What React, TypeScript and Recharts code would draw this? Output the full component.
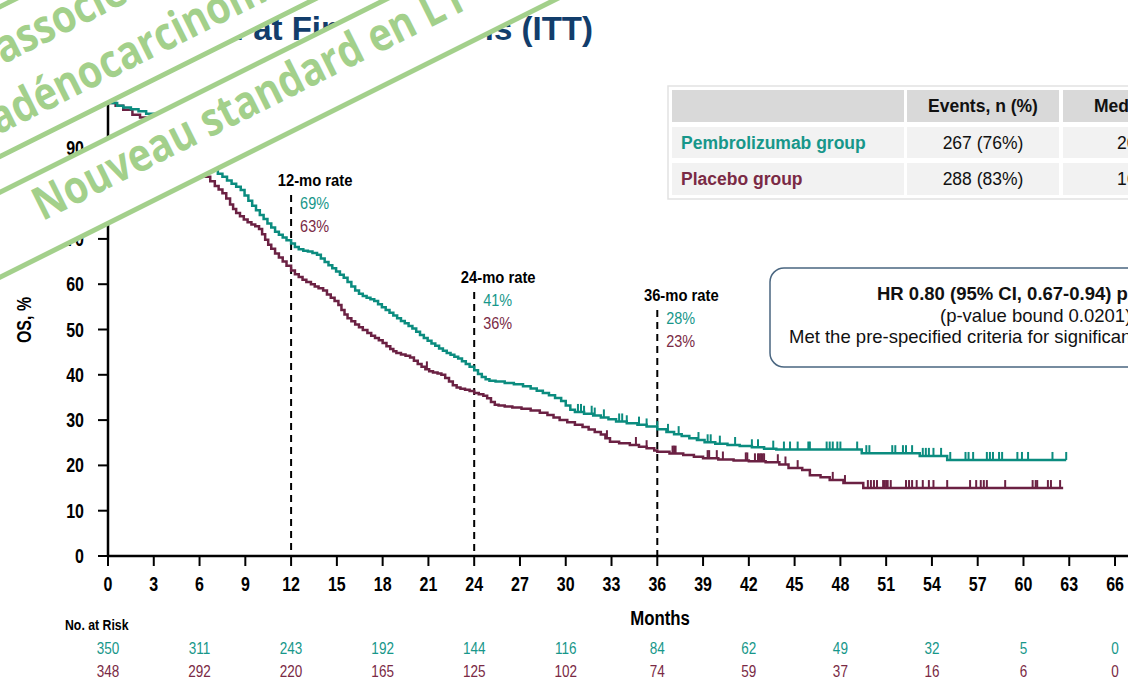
import React from "react";
import { ComposedChart, Line, Scatter, XAxis, YAxis, ReferenceLine } from "recharts";

type Step = [number, number];

// ---- data ----
const monthTicks = [0, 3, 6, 9, 12, 15, 18, 21, 24, 27, 30, 33, 36, 39, 42, 45, 48, 51, 54, 57, 60, 63, 66];
const survivalTicks = [0, 10, 20, 30, 40, 50, 60, 70, 80, 90, 100];

const riskMonths = [0, 6, 12, 18, 24, 30, 36, 42, 48, 54, 60, 66];
const pembroAtRisk = [350, 311, 243, 192, 144, 116, 84, 62, 49, 32, 5, 0];
const placeboAtRisk = [348, 292, 220, 165, 125, 102, 74, 59, 37, 16, 6, 0];

const landmarkMonths = [12, 24, 36];
const pembroLandmarkRates = [69, 41, 28];
const placeboLandmarkRates = [63, 36, 23];

// Kaplan-Meier steps: [month, OS %]
const pembroSteps: Step[] = [
  [0, 100], [0.6, 99.4], [1.0, 99.0], [1.5, 98.6], [2.0, 98.2], [2.5, 97.6], [3.0, 96.6], [3.5, 95.5],
  [4.0, 94.3], [4.5, 93.0], [5.0, 91.6], [5.5, 90.0], [6.0, 88.4], [6.3, 87.4], [6.6, 86.3], [6.9, 85.3],
  [7.2, 84.4], [7.5, 83.7], [7.8, 82.9], [8.1, 82.2], [8.4, 81.5], [8.7, 80.8], [8.95, 79.6], [9.2, 78.4],
  [9.45, 77.3], [9.7, 76.3], [9.95, 75.3], [10.2, 74.4], [10.45, 73.4], [10.7, 72.5], [10.95, 71.6],
  [11.2, 70.9], [11.45, 70.3], [11.7, 69.7], [12.0, 69.0], [12.25, 68.2], [12.5, 67.7], [12.8, 67.4],
  [13.1, 67.2], [13.4, 66.9], [13.7, 66.5], [13.95, 65.7], [14.2, 64.9], [14.45, 64.2], [14.7, 63.5],
  [14.95, 62.8], [15.2, 62.1], [15.45, 61.4], [15.7, 60.5], [15.95, 59.5], [16.2, 58.6], [16.45, 57.9],
  [16.7, 57.4], [16.95, 57.0], [17.2, 56.7], [17.45, 56.3], [17.7, 55.6], [17.95, 54.9], [18.2, 54.3],
  [18.45, 53.7], [18.7, 53.1], [18.95, 52.5], [19.2, 51.9], [19.45, 51.4], [19.7, 50.8], [19.95, 50.2],
  [20.2, 49.5], [20.45, 48.8], [20.7, 48.1], [20.95, 47.5], [21.2, 46.9], [21.45, 46.4], [21.7, 45.8],
  [21.95, 45.3], [22.2, 44.8], [22.45, 44.4], [22.7, 44.0], [22.95, 43.6], [23.2, 43.0], [23.45, 42.4],
  [23.7, 41.8], [24.0, 41.0], [24.25, 40.2], [24.5, 39.5], [24.75, 39.0], [25.0, 38.7], [25.4, 38.5],
  [26.0, 38.2], [26.6, 37.9], [27.2, 37.5], [27.7, 37.0], [28.1, 36.5], [28.5, 36.0], [28.9, 35.5],
  [29.3, 34.9], [29.7, 34.2], [30.0, 33.2], [30.3, 32.3], [30.6, 31.8], [31.2, 31.4], [31.8, 31.0],
  [32.3, 30.6], [32.8, 30.2], [33.3, 29.7], [34.0, 29.3], [34.7, 29.0], [35.3, 28.6], [36.0, 28.0],
  [36.6, 27.4], [37.1, 26.9], [37.6, 26.5], [38.1, 26.0], [38.6, 25.6], [39.1, 25.1], [39.8, 24.8],
  [40.6, 24.5], [41.4, 24.3], [42.2, 24.0], [43.0, 23.7], [43.8, 23.5], [49.4, 22.7], [53.2, 22.1],
  [55.0, 21.2], [62.8, 21.2],
];

const placeboSteps: Step[] = [
  [0, 100], [0.5, 99.4], [1.0, 98.5], [1.6, 97.4], [2.1, 96.8], [2.6, 95.8], [3.0, 94.6], [3.5, 93.2],
  [4.0, 91.8], [4.5, 90.3], [5.0, 88.8], [5.5, 87.1], [6.0, 85.3], [6.4, 83.7], [6.7, 82.7], [7.0, 81.7],
  [7.25, 80.9], [7.5, 80.1], [7.75, 78.9], [8.0, 77.6], [8.2, 76.6], [8.4, 75.7], [8.65, 75.0], [8.9, 74.3],
  [9.15, 73.7], [9.4, 73.2], [9.65, 72.8], [9.9, 72.2], [10.1, 71.0], [10.3, 69.8], [10.5, 68.7],
  [10.7, 67.8], [10.95, 66.8], [11.2, 65.9], [11.45, 65.0], [11.7, 64.1], [12.0, 63.0], [12.25, 62.2],
  [12.5, 61.6], [12.75, 61.0], [13.0, 60.5], [13.3, 60.0], [13.55, 59.5], [13.8, 59.1], [14.1, 58.6],
  [14.35, 57.7], [14.6, 57.0], [14.85, 56.3], [15.1, 55.4], [15.3, 54.3], [15.5, 53.3], [15.7, 52.5],
  [15.95, 51.8], [16.2, 51.1], [16.45, 50.5], [16.7, 49.9], [17.0, 49.2], [17.25, 48.6], [17.5, 48.1],
  [17.75, 47.6], [18.0, 47.0], [18.25, 46.3], [18.5, 45.7], [18.7, 45.2], [18.9, 44.8], [19.2, 44.5],
  [19.5, 44.2], [19.8, 43.8], [20.05, 43.1], [20.3, 42.4], [20.55, 41.8], [20.8, 41.2], [21.05, 40.8],
  [21.3, 40.5], [21.6, 40.3], [21.85, 40.0], [22.1, 39.3], [22.35, 38.5], [22.6, 37.7], [22.85, 37.2],
  [23.1, 36.9], [23.4, 36.7], [23.7, 36.4], [24.0, 36.0], [24.3, 35.7], [24.6, 35.4], [24.85, 34.8],
  [25.1, 34.0], [25.35, 33.4], [25.6, 33.2], [26.0, 33.0], [26.5, 32.8], [27.1, 32.5], [27.7, 32.1],
  [28.3, 31.6], [28.8, 31.1], [29.2, 30.6], [29.6, 30.0], [30.1, 29.5], [30.6, 29.0], [31.1, 28.5],
  [31.5, 27.9], [31.9, 27.4], [32.3, 26.8], [32.6, 26.0], [32.9, 25.2], [33.5, 24.9], [34.2, 24.5],
  [34.8, 24.1], [35.3, 23.8], [35.8, 23.3], [36.0, 23.0], [36.8, 22.6], [37.7, 22.3], [38.4, 21.9],
  [39.0, 21.6], [40.0, 21.3], [41.0, 21.1], [42.0, 20.9], [43.1, 20.7], [44.0, 20.2], [44.6, 19.4],
  [45.5, 19.0], [46.0, 17.8], [46.7, 17.4], [47.3, 16.8], [48.2, 16.1], [49.5, 15.0], [62.6, 15.0],
];

// censoring times (months)
const pembroCensored = [
  30.8, 31.0, 31.2, 31.7, 31.9, 32.5, 33.5, 33.7, 34.0, 34.8, 35.3, 36.0, 36.7, 37.4, 38.7, 39.3, 39.5,
  40.1, 41.1, 42.2, 42.6, 43.6, 44.3, 44.7, 45.2, 45.9, 46.0, 47.1, 47.3, 47.5, 47.8, 48.0, 49.1, 49.7,
  49.9, 51.4, 51.6, 52.1, 52.3, 52.7, 53.4, 53.6, 53.8, 54.1, 54.6, 55.2, 56.2, 56.4, 56.7, 57.6, 57.8,
  58.0, 58.4, 58.6, 59.6, 59.9, 60.3, 61.9, 62.8,
];
const placeboCensored = [
  20.9, 32.7, 34.6, 35.3, 37.0, 37.1, 37.2, 39.3, 39.4, 39.9, 40.3, 41.8, 41.9, 42.4, 42.6, 42.7, 42.8,
  42.9, 43.0, 43.9, 44.4, 45.2, 47.5, 48.3, 49.8, 50.0, 50.2, 50.4, 50.8, 50.9, 51.0, 51.1, 51.3, 52.3,
  52.5, 52.7, 53.0, 53.4, 53.8, 54.1, 55.0, 56.5, 56.9, 57.2, 57.4, 57.6, 58.8, 60.6, 60.8, 60.9, 61.6,
  61.8, 62.4,
];

// ---- styling ----
const W = 1128;
const H = 684;
const SANS = "'Liberation Sans', Arial, sans-serif";
const BANNER_FONT = "'Open Sans', sans-serif";
const CONDENSE = 0.82; // horizontal squeeze for the narrow axis lettering
const TEAL = "#0b8c7f";
const TEAL_TEXT = "#17978a";
const MAROON = "#6b2143";
const MAROON_TEXT = "#7a2a45";
const GREEN = "#a3d08b";
const NAVY = "#123d6b";

// top of each dashed landmark line, in OS % units
const landmarkLineTops = [79.7, 58.3, 54.3];

const levelAt = (steps: Step[], t: number) => {
  let s = steps[0][1];
  for (const [ti, si] of steps) {
    if (ti <= t) s = si;
    else break;
  }
  return s;
};

const toPoints = (steps: Step[]) => steps.map(([t, s]) => ({ t, s }));
const censorPoints = (steps: Step[], times: number[]) => times.map((t) => ({ t, s: levelAt(steps, t) }));

const pembroData = toPoints(pembroSteps);
const placeboData = toPoints(placeboSteps);
const pembroCensorData = censorPoints(pembroSteps, pembroCensored);
const placeboCensorData = censorPoints(placeboSteps, placeboCensored);

// condensed text: a font squeezed horizontally
const NarrowText = ({ x, y, size, bold, fill = "#000", anchor = "start", squeeze = CONDENSE, family = SANS, children }: any) => (
  <text
    transform={`translate(${x},${y}) scale(${squeeze},1)`}
    textAnchor={anchor}
    fontFamily={family}
    fontWeight={bold ? 700 : 400}
    fontSize={size}
    fill={fill}
  >
    {children}
  </text>
);

const censorShape = (color: string) => (p: any) =>
  <line x1={p.cx} y1={p.cy} x2={p.cx} y2={p.cy - 8} stroke={color} strokeWidth={2} />;

const MonthTick = (props: any) => {
  const { x, y, payload } = props;
  const m = payload.value;
  const i = riskMonths.indexOf(m);
  return (
    <g>
      <NarrowText x={x} y={y + 25} size={19.5} bold anchor="middle">{m}</NarrowText>
      {i >= 0 && (
        <>
          <NarrowText x={x} y={y + 88} size={16.5} anchor="middle" fill={TEAL_TEXT}>{pembroAtRisk[i]}</NarrowText>
          <NarrowText x={x} y={y + 111} size={16.5} anchor="middle" fill={MAROON_TEXT}>{placeboAtRisk[i]}</NarrowText>
        </>
      )}
    </g>
  );
};

const SurvivalTick = (props: any) => {
  const { x, y, payload } = props;
  return <NarrowText x={x} y={y + 7} size={19.5} bold anchor="end">{payload.value}</NarrowText>;
};

const landmarkLabel = (i: number) => (props: any) => {
  const vb = props.viewBox || {};
  const x = vb.x ?? vb.x1;
  const y = vb.y ?? vb.y1;
  const h = vb.height ?? (vb.y2 - vb.y1);
  const top = Math.min(y, y + h);
  return (
    <g>
      <NarrowText x={x + 24} y={top - 9} size={17} bold anchor="middle" squeeze={0.87}>
        {landmarkMonths[i]}-mo rate
      </NarrowText>
      <NarrowText x={x + 9} y={top + 14} size={17} fill={TEAL_TEXT} squeeze={0.85}>
        {pembroLandmarkRates[i]}%
      </NarrowText>
      <NarrowText x={x + 9} y={top + 37} size={17} fill={MAROON_TEXT} squeeze={0.85}>
        {placeboLandmarkRates[i]}%
      </NarrowText>
    </g>
  );
};

export default function App() {
  return (
    <div style={{ position: "relative", width: W, height: H, background: "#fff", overflow: "hidden" }}>
      <style>{"body{margin:0}"}</style>
      <ComposedChart width={W} height={H} margin={{ top: 103, right: 0, bottom: 0, left: 0 }}>
        <XAxis
          type="number"
          dataKey="t"
          domain={[0, 66.85]}
          allowDataOverflow
          ticks={monthTicks}
          interval={0}
          height={128}
          tickSize={10}
          tickMargin={0}
          axisLine={{ stroke: "#000", strokeWidth: 2.5 }}
          tickLine={{ stroke: "#000", strokeWidth: 2 }}
          tick={(p: any) => <MonthTick {...p} />}
        />
        <YAxis
          type="number"
          dataKey="s"
          domain={[0, 100]}
          ticks={survivalTicks}
          interval={0}
          width={108}
          tickSize={10}
          tickMargin={14}
          axisLine={{ stroke: "#000", strokeWidth: 2.5 }}
          tickLine={{ stroke: "#000", strokeWidth: 2 }}
          tick={(p: any) => <SurvivalTick {...p} />}
        />
        {landmarkMonths.map((m, i) => (
          <ReferenceLine
            key={m}
            segment={[{ x: m, y: landmarkLineTops[i] }, { x: m, y: 0 }]}
            stroke="#000"
            strokeWidth={2}
            strokeDasharray="7 5"
            label={landmarkLabel(i)}
          />
        ))}
        <Line data={placeboData} dataKey="s" type="stepAfter" stroke={MAROON} strokeWidth={2.5} dot={false} isAnimationActive={false} />
        <Line data={pembroData} dataKey="s" type="stepAfter" stroke={TEAL} strokeWidth={2.5} dot={false} isAnimationActive={false} />
        <Scatter data={placeboCensorData} dataKey="s" shape={censorShape(MAROON)} isAnimationActive={false} />
        <Scatter data={pembroCensorData} dataKey="s" shape={censorShape(TEAL)} isAnimationActive={false} />
      </ComposedChart>

      <svg width={W} height={H} style={{ position: "absolute", left: 0, top: 0, pointerEvents: "none" }}>
        {/* title */}
        <text x={593} y={40} textAnchor="end" fontFamily={SANS} fontWeight={700} fontSize={33} fill={NAVY}>
          Overall Survival at Final Analysis (ITT)
        </text>

        {/* axis titles */}
        <g transform="translate(31,320) rotate(-90)">
          <NarrowText x={0} y={0} size={19.5} bold anchor="middle">OS, %</NarrowText>
        </g>
        <NarrowText x={660} y={625} size={20.5} bold anchor="middle">Months</NarrowText>
        <NarrowText x={65} y={630} size={15} bold>No. at Risk</NarrowText>

        {/* summary table */}
        <rect x={668} y={86} width={480} height={113} fill="#fff" stroke="#e2e2e2" strokeWidth={1.5} />
        <rect x={672} y={90} width={232} height={32} fill="#d9d9d9" />
        <rect x={907} y={90} width={152} height={32} fill="#d9d9d9" />
        <rect x={1063} y={90} width={120} height={32} fill="#d9d9d9" />
        <rect x={672} y={127} width={232} height={31} fill="#f2f2f2" />
        <rect x={907} y={127} width={152} height={31} fill="#f2f2f2" />
        <rect x={1063} y={127} width={120} height={31} fill="#f2f2f2" />
        <rect x={672} y={163} width={232} height={32} fill="#f2f2f2" />
        <rect x={907} y={163} width={152} height={32} fill="#f2f2f2" />
        <rect x={1063} y={163} width={120} height={32} fill="#f2f2f2" />
        <g fontFamily={SANS} fontSize={17.5}>
          <text x={983} y={112} textAnchor="middle" fontWeight={700} fill="#111">Events, n (%)</text>
          <text x={1094} y={112} fontWeight={700} fill="#111">Median, mo (95% CI)</text>
          <text x={681} y={149} fontWeight={700} fill={TEAL_TEXT}>Pembrolizumab group</text>
          <text x={983} y={149} textAnchor="middle" fill="#111">267 (76%)</text>
          <text x={1117} y={149} fill="#111">20.0 (17.8-22.1)</text>
          <text x={681} y={185} fontWeight={700} fill={MAROON_TEXT}>Placebo group</text>
          <text x={983} y={185} textAnchor="middle" fill="#111">288 (83%)</text>
          <text x={1117} y={185} fill="#111">16.8 (15.0-18.7)</text>
        </g>

        {/* hazard ratio box */}
        <rect x={770} y={268} width={520} height={99} rx={14} ry={14} fill="#fff" stroke="#4a6680" strokeWidth={1.5} />
        <g fontFamily={SANS} fontSize={18.5} fill="#111">
          <text x={877} y={300} fontWeight={700}>HR 0.80 (95% CI, 0.67-0.94) p=0.0040</text>
          <text x={940} y={322}>(p-value bound 0.0201)</text>
          <text x={789} y={343}>Met the pre-specified criteria for significance</text>
        </g>

        {/* slide banners */}
        <g transform="rotate(-26.565)">
          <rect x={-300} y={6} width={1400} height={134} fill="#fff" stroke={GREEN} strokeWidth={5} />
          <NarrowText x={-26} y={59} size={46} bold fill={GREEN} squeeze={0.85} family={BANNER_FONT}>
            associé à la chimiothérapie
          </NarrowText>
          <NarrowText x={-62} y={120} size={46} bold fill={GREEN} squeeze={0.85} family={BANNER_FONT}>
            adénocarcinome gastrique HER2+
          </NarrowText>
          <rect x={-300} y={172} width={1400} height={76} fill="#fff" stroke={GREEN} strokeWidth={5} />
          <NarrowText x={-61} y={217} size={46} bold fill={GREEN} squeeze={0.85} family={BANNER_FONT}>
            Nouveau standard en L1
          </NarrowText>
        </g>
      </svg>
    </div>
  );
}
